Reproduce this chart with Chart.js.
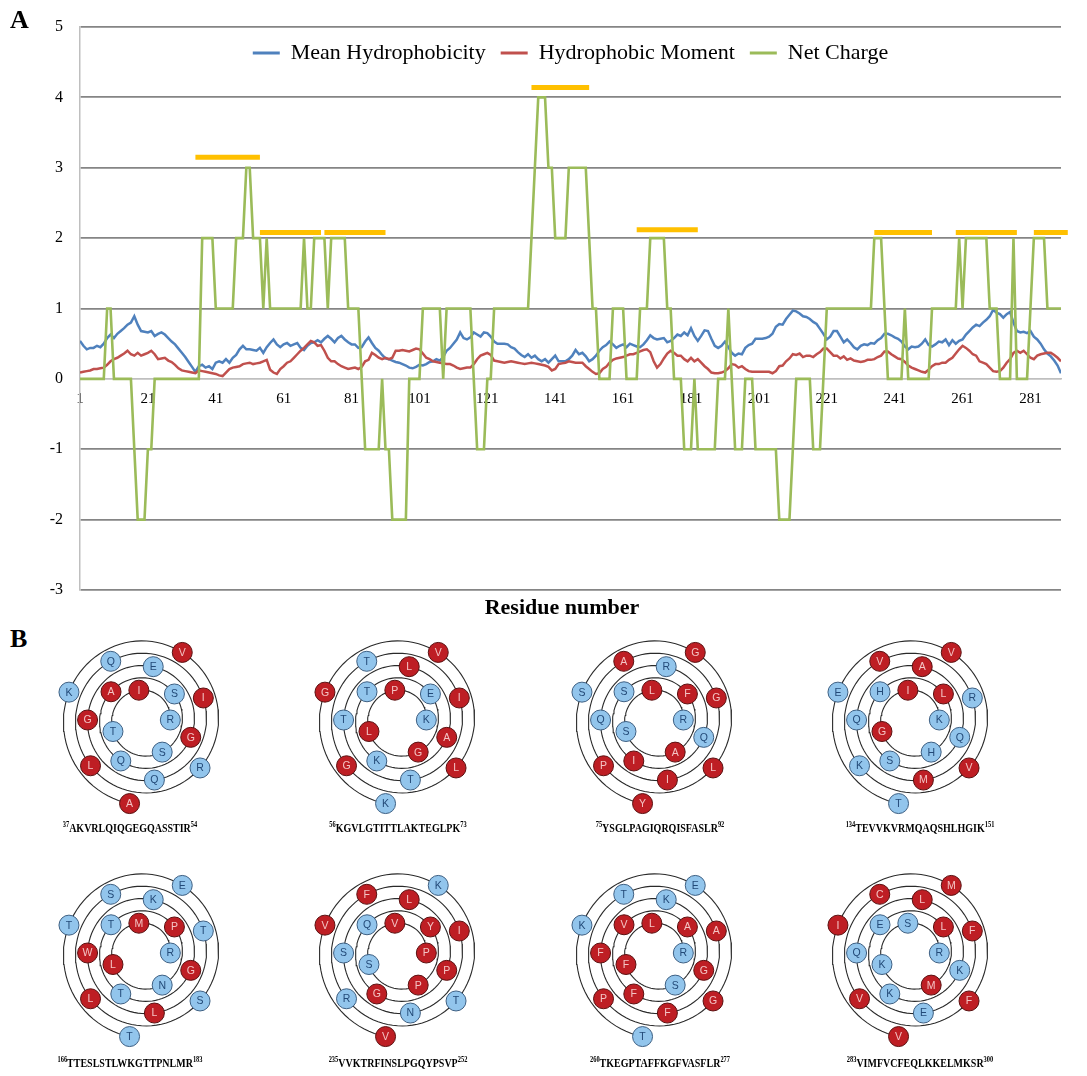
<!DOCTYPE html>
<html>
<head>
<meta charset="utf-8">
<script src="https://cdn.jsdelivr.net/npm/chart.js@4.4.0/dist/chart.umd.min.js"></script>
<style>
html,body{margin:0;padding:0;background:#fff;}
#page{position:relative;width:1087px;height:1076px;overflow:hidden;background:#fff;font-family:'Liberation Serif','Times New Roman',serif;color:#000;}
#chartA{position:absolute;left:0;top:0;}
.panel{position:absolute;font-weight:bold;font-size:26px;line-height:26px;}
#xtitle{position:absolute;left:412px;width:300px;top:595px;text-align:center;font-weight:bold;font-size:22px;line-height:24px;}
.wheel{position:absolute;}
.wlabel{position:absolute;width:320px;text-align:center;font-weight:bold;font-size:12.5px;line-height:18px;white-space:nowrap;transform:scaleX(0.8);transform-origin:50% 50%;}
.wlabel sup{font-size:8px;line-height:0;vertical-align:baseline;position:relative;top:-5px;}
</style>
</head>
<body>
<div id="page">
  <canvas id="chartA" width="1087" height="620"></canvas>
  <div class="panel" style="left:10px;top:7px;">A</div>
  <div id="xtitle">Residue number</div>
  <div class="panel" style="left:10px;top:626px;">B</div>
</div>
<script>
// ---------------- Panel A data ----------------
const N_RES = 290;
const residues = Array.from({length: N_RES}, (_, i) => i + 1);
const xTickLabels = [1, 21, 41, 61, 81, 101, 121, 141, 161, 181, 201, 221, 241, 261, 281];
const yTickMin = -3, yTickMax = 5;

const meanHydrophobicity = [
0.54,0.47,0.42,0.44,0.44,0.47,0.45,0.50,0.58,0.63,
0.58,0.64,0.68,0.72,0.77,0.80,0.89,0.77,0.68,0.67,
0.66,0.68,0.61,0.64,0.66,0.63,0.58,0.53,0.49,0.43,
0.37,0.31,0.24,0.17,0.10,0.18,0.20,0.16,0.18,0.14,
0.23,0.25,0.23,0.28,0.23,0.30,0.34,0.42,0.47,0.42,
0.42,0.41,0.40,0.44,0.37,0.45,0.51,0.56,0.49,0.45,
0.49,0.51,0.47,0.49,0.51,0.44,0.41,0.47,0.51,0.52,
0.55,0.52,0.57,0.61,0.57,0.52,0.58,0.61,0.56,0.52,
0.49,0.49,0.44,0.45,0.53,0.59,0.51,0.44,0.40,0.34,
0.29,0.28,0.26,0.24,0.23,0.21,0.19,0.16,0.15,0.17,
0.20,0.19,0.21,0.24,0.25,0.28,0.26,0.31,0.40,0.44,
0.50,0.56,0.66,0.58,0.56,0.59,0.66,0.63,0.60,0.66,
0.65,0.60,0.53,0.50,0.50,0.50,0.49,0.45,0.43,0.38,
0.34,0.31,0.35,0.30,0.33,0.28,0.25,0.28,0.23,0.28,
0.33,0.25,0.25,0.25,0.28,0.33,0.41,0.35,0.37,0.32,
0.25,0.28,0.33,0.40,0.45,0.48,0.53,0.49,0.44,0.47,
0.49,0.45,0.50,0.48,0.46,0.45,0.49,0.55,0.62,0.58,
0.56,0.57,0.58,0.52,0.54,0.58,0.63,0.61,0.66,0.62,
0.72,0.61,0.54,0.61,0.69,0.68,0.57,0.47,0.44,0.47,
0.53,0.45,0.37,0.33,0.36,0.35,0.44,0.48,0.50,0.57,
0.57,0.57,0.58,0.60,0.64,0.74,0.78,0.77,0.85,0.91,
0.97,0.96,0.93,0.89,0.88,0.85,0.81,0.78,0.71,0.64,
0.56,0.60,0.68,0.68,0.60,0.52,0.56,0.51,0.45,0.42,
0.47,0.49,0.48,0.51,0.50,0.55,0.58,0.64,0.64,0.62,
0.59,0.57,0.53,0.46,0.42,0.46,0.45,0.46,0.50,0.56,
0.48,0.46,0.49,0.53,0.52,0.56,0.48,0.55,0.50,0.54,
0.56,0.63,0.68,0.73,0.77,0.75,0.80,0.84,0.89,0.98,
0.94,0.92,0.87,0.92,0.95,0.80,0.68,0.66,0.67,0.65,
0.68,0.60,0.56,0.50,0.42,0.36,0.32,0.26,0.19,0.08
];

const hydrophobicMoment = [
0.09,0.10,0.11,0.12,0.14,0.14,0.15,0.16,0.20,0.25,
0.28,0.30,0.33,0.36,0.40,0.35,0.33,0.37,0.33,0.35,
0.37,0.40,0.35,0.28,0.29,0.30,0.26,0.24,0.20,0.15,
0.12,0.11,0.10,0.09,0.08,0.12,0.11,0.10,0.09,0.08,
0.07,0.05,0.04,0.09,0.14,0.16,0.17,0.18,0.21,0.22,
0.23,0.21,0.22,0.23,0.25,0.27,0.13,0.09,0.07,0.14,
0.18,0.23,0.25,0.30,0.35,0.40,0.44,0.49,0.54,0.52,
0.47,0.48,0.40,0.30,0.25,0.25,0.21,0.18,0.16,0.14,
0.15,0.16,0.14,0.17,0.25,0.27,0.37,0.34,0.30,0.28,
0.30,0.28,0.30,0.40,0.40,0.41,0.40,0.39,0.41,0.43,
0.42,0.36,0.30,0.28,0.25,0.24,0.23,0.22,0.21,0.21,
0.19,0.16,0.14,0.15,0.16,0.16,0.21,0.28,0.33,0.35,
0.37,0.34,0.26,0.25,0.24,0.23,0.24,0.25,0.24,0.23,
0.22,0.21,0.22,0.23,0.22,0.21,0.20,0.19,0.17,0.12,
0.14,0.21,0.22,0.23,0.25,0.24,0.23,0.23,0.23,0.18,
0.14,0.10,0.07,0.08,0.14,0.17,0.23,0.27,0.29,0.30,
0.31,0.33,0.35,0.35,0.37,0.39,0.41,0.42,0.38,0.25,
0.16,0.21,0.29,0.36,0.40,0.37,0.33,0.33,0.28,0.25,
0.30,0.25,0.28,0.23,0.18,0.14,0.09,0.08,0.08,0.09,
0.11,0.15,0.21,0.20,0.16,0.18,0.14,0.11,0.10,0.10,
0.10,0.10,0.10,0.10,0.08,0.11,0.18,0.19,0.25,0.29,
0.35,0.34,0.36,0.31,0.33,0.33,0.31,0.35,0.38,0.43,
0.43,0.38,0.33,0.33,0.29,0.32,0.27,0.29,0.26,0.25,
0.24,0.25,0.27,0.27,0.28,0.31,0.33,0.39,0.39,0.35,
0.32,0.29,0.28,0.24,0.19,0.16,0.14,0.12,0.10,0.09,
0.13,0.18,0.21,0.21,0.23,0.23,0.27,0.30,0.36,0.42,
0.47,0.44,0.40,0.35,0.33,0.25,0.23,0.21,0.16,0.11,
0.10,0.11,0.16,0.23,0.28,0.37,0.40,0.37,0.40,0.35,
0.30,0.28,0.33,0.35,0.36,0.37,0.37,0.34,0.30,0.25
];

const netCharge = [
0,0,0,0,0,0,0,0,1,1,
0,0,0,0,0,0,-1,-2,-2,-2,
-1,-1,0,0,0,0,0,0,0,0,
0,0,0,0,0,0,2,2,2,2,
1,1,1,1,1,1,2,2,2,3,
3,2,2,2,1,2,1,1,1,1,
1,1,1,1,1,1,2,1,1,2,
2,2,2,1,2,2,2,2,2,1,
1,1,1,0,-1,-1,-1,-1,-1,0,
-1,-1,-2,-2,-2,-2,-2,0,0,0,
0,1,1,1,1,1,1,0,1,1,
1,1,1,1,1,1,0,-1,-1,-1,
0,0,1,1,1,1,1,1,1,1,
1,1,1,2,3,4,4,4,3,3,
2,2,2,2,3,3,3,3,3,3,
2,1,1,0,0,0,0,1,1,1,
1,0,0,0,0,1,1,1,2,2,
2,2,2,1,1,0,0,0,-1,-1,
-1,0,-1,-1,-1,-1,-1,-1,0,0,
0,1,0,-1,-1,-1,0,0,0,-1,
-1,-1,-1,-1,-1,-1,-2,-2,-2,-2,
-1,0,0,0,0,0,-1,-1,-1,0,
1,1,1,1,1,1,1,1,1,1,
1,1,1,1,2,2,2,1,0,0,
0,0,0,1,0,0,0,0,0,0,
0,1,1,1,1,1,1,1,1,2,
1,2,2,2,2,2,2,2,1,1,
1,0,0,0,0,2,0,0,0,0,
1,2,2,2,2,1,1,1,1,1
];

// helical segments marked by orange bars (residue start / end / height)
const helixStart = [35, 54, 73, 134, 165, 235, 259, 282];
const helixEnd   = [54, 72, 91, 151, 183, 252, 277, 292];
const helixLevel = [3.15, 2.08, 2.08, 4.14, 2.12, 2.08, 2.08, 2.08];

// ---------------- Panel B data ----------------
const wheelStart = [37, 56, 75, 134, 166, 235, 260, 283];
const wheelEnd   = [54, 73, 92, 151, 183, 252, 277, 300];
const wheelSeqs  = [
  'AKVRLQIQGEGQASSTIR', 'KGVLGTITTLAKTEGLPK', 'YSGLPAGIQRQISFASLR', 'TEVVKVRMQAQSHLHGIK',
  'TTESLSTLWKGTTPNLMR', 'VVKTRFINSLPGQYPSVP', 'TKEGPTAFFKGFVASFLR', 'VIMFVCFEQLKKELMKSR'
];
const hydrophobicSet = 'AVILGPFMWYC';

// ---------------- Panel A chart ----------------
const toXY = arr => residues.map((r, i) => ({x: r, y: arr[i]}));
const helixData = [];
helixStart.forEach((s, i) => {
  helixData.push({x: s, y: helixLevel[i]}, {x: helixEnd[i], y: helixLevel[i]}, {x: helixEnd[i] + 0.5, y: null});
});

const legendInside = {
  id: 'legendInside',
  beforeLayout(chart) {
    const lg = chart.legend;
    if (lg && !lg.__inside) {
      const origFit = lg.fit;
      lg.fit = function () { origFit.call(this); this.__realH = this.height; this.height = 0; };
      lg.__inside = true;
    }
  },
  afterLayout(chart) {
    const lg = chart.legend;
    if (lg && lg.__realH) { lg.height = lg.__realH; lg.bottom = lg.top + lg.__realH; }
  }
};

const serif = "'Liberation Serif', 'Times New Roman', serif";
Chart.defaults.font.family = serif;

new Chart(document.getElementById('chartA'), {
  type: 'line',
  data: {
    datasets: [
      {label: 'Mean Hydrophobicity', data: toXY(meanHydrophobicity), borderColor: '#4F81BD', backgroundColor: '#4F81BD', borderWidth: 2.5, pointRadius: 0, order: 3},
      {label: 'Hydrophobic Moment', data: toXY(hydrophobicMoment), borderColor: '#C0504D', backgroundColor: '#C0504D', borderWidth: 2.5, pointRadius: 0, order: 2},
      {label: 'Net Charge', data: toXY(netCharge), borderColor: '#9BBB59', backgroundColor: '#9BBB59', borderWidth: 2.6, pointRadius: 0, order: 1},
      {label: 'Helical segment', data: helixData, borderColor: '#FFC000', backgroundColor: '#FFC000', borderWidth: 5, pointRadius: 0, order: 0, clip: false, spanGaps: false, borderCapStyle: 'butt'}
    ]
  },
  options: {
    responsive: false,
    animation: false,
    devicePixelRatio: 1,
    layout: {padding: {top: 27, right: 26, bottom: 30, left: 0}},
    plugins: {
      legend: {
        display: true,
        position: 'top',
        fullSize: false,
        labels: {
          font: {family: serif, size: 22},
          color: '#000',
          boxWidth: 27,
          boxHeight: 3,
          padding: 15,
          filter: item => item.datasetIndex < 3,
          sort: (a, b) => a.datasetIndex - b.datasetIndex,
          generateLabels: chart => Chart.defaults.plugins.legend.labels.generateLabels(chart).map(l => Object.assign(l, {lineWidth: 0}))
        }
      },
      tooltip: {enabled: false},
      title: {display: false}
    },
    scales: {
      x: {
        type: 'linear',
        min: 1,
        max: N_RES,
        position: {y: 0},
        afterBuildTicks: s => { s.ticks = xTickLabels.map(v => ({value: v})); },
        ticks: {color: '#000', font: {family: serif, size: 15}, padding: 11, maxRotation: 0, autoSkip: false, callback: v => String(v)},
        grid: {display: false, drawTicks: false},
        border: {display: true, color: '#BFBFBF', width: 1.5}
      },
      y: {
        type: 'linear',
        min: yTickMin,
        max: yTickMax,
        afterFit: s => { s.width = 80; },
        ticks: {stepSize: 1, color: '#000', font: {family: serif, size: 16}, padding: 17},
        grid: {
          color: c => (c.tick && c.tick.value === 0) ? '#BFBFBF' : '#858585',
          lineWidth: c => (c.tick && c.tick.value === 0) ? 1.5 : 1.8,
          drawTicks: false
        },
        border: {display: true, color: '#BFBFBF', width: 1.5}
      }
    }
  },
  plugins: [legendInside]
});

// ---------------- Panel B: helical wheels ----------------
const THETA0 = -100, STEP = 100, R0 = 92, DR = 3.7;
const wheelCX = [144, 400, 657, 913];
const wheelCY = [720, 953];
const labelCX = [130, 398, 660, 920];
const labelCY = [828, 1063];
const W_W = 230, W_H = 236, X_HALF = 115, Y_HALF = 116;

const letterPlugin = {
  id: 'letters',
  afterDatasetsDraw(chart, args, opts) {
    const meta = chart.getDatasetMeta(1);
    const ctx = chart.ctx;
    ctx.save();
    ctx.font = "10.5px 'Liberation Sans', Arial, sans-serif";
    ctx.textAlign = 'center';
    ctx.textBaseline = 'middle';
    meta.data.forEach((pt, i) => {
      const aa = opts.seq[i];
      ctx.fillStyle = hydrophobicSet.includes(aa) ? '#F4C4C4' : '#234A78';
      ctx.fillText(aa, pt.x, pt.y + 0.5);
    });
    ctx.restore();
  }
};

const page = document.getElementById('page');
wheelSeqs.forEach((seq, w) => {
  const col = w % 4, row = Math.floor(w / 4);
  const cx = wheelCX[col], cy = wheelCY[row];
  const cv = document.createElement('canvas');
  cv.className = 'wheel';
  cv.width = W_W; cv.height = W_H;
  cv.style.left = (cx - W_W / 2) + 'px';
  cv.style.top = (cy - W_H / 2) + 'px';
  page.appendChild(cv);

  const n = seq.length;
  const pts = [];
  for (let i = 0; i < n; i++) {
    const th = (THETA0 - STEP * i) * Math.PI / 180;
    const r = R0 - DR * i;
    pts.push({x: r * Math.cos(th), y: r * Math.sin(th)});
  }
  const spiral = [];
  for (let phi = 0; phi <= STEP * (n - 1); phi += 4) {
    const th = (THETA0 - phi) * Math.PI / 180;
    const r = R0 - DR * phi / STEP;
    spiral.push({x: r * Math.cos(th), y: r * Math.sin(th)});
  }
  const isH = seq.split('').map(a => hydrophobicSet.includes(a));
  new Chart(cv, {
    type: 'scatter',
    data: {
      datasets: [
        {type: 'line', data: spiral, borderColor: '#2a2a2a', borderWidth: 1.1, pointRadius: 0, tension: 0, order: 2, showLine: true, fill: false},
        {data: pts, pointRadius: 10, pointBackgroundColor: isH.map(h => h ? '#BE1E24' : '#92C5EC'),
         pointBorderColor: isH.map(h => h ? '#5a1010' : '#3d5f82'), pointBorderWidth: 1, order: 1}
      ]
    },
    options: {
      responsive: false, animation: false, devicePixelRatio: 1,
      layout: {padding: 0},
      plugins: {legend: {display: false}, tooltip: {enabled: false}, letters: {seq: seq}},
      scales: {
        x: {type: 'linear', display: false, min: -X_HALF, max: X_HALF},
        y: {type: 'linear', display: false, min: -Y_HALF, max: Y_HALF}
      }
    },
    plugins: [letterPlugin]
  });

  const lab = document.createElement('div');
  lab.className = 'wlabel';
  lab.style.left = (labelCX[col] - 160) + 'px';
  lab.style.top = (labelCY[row] - 9) + 'px';
  lab.innerHTML = '<sup>' + wheelStart[w] + '</sup>' + seq + '<sup>' + wheelEnd[w] + '</sup>';
  page.appendChild(lab);
});
</script>
</body>
</html>
